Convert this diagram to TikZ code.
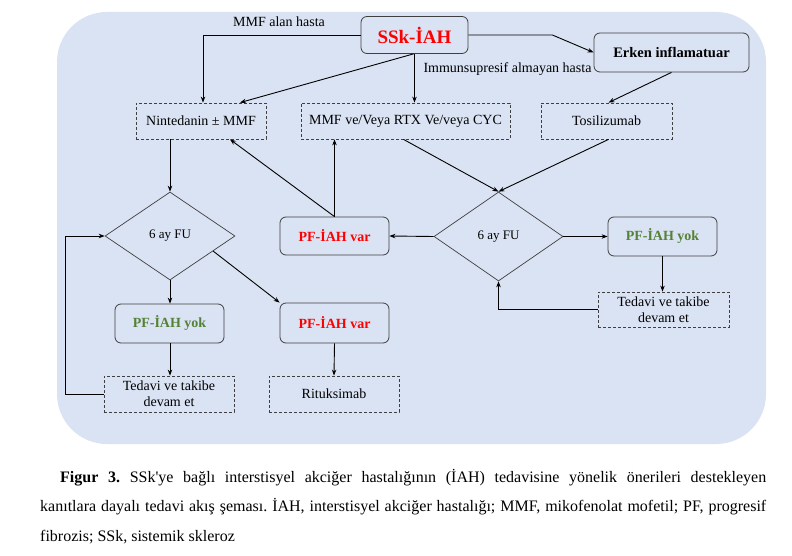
\documentclass[tikz,border=0pt]{standalone}
\usepackage{fontspec}
\setmainfont{Liberation Serif}
\usetikzlibrary{arrows.meta,shapes.geometric,calc}
\definecolor{bgblue}{HTML}{DAE3F3}
\definecolor{edgegray}{HTML}{3F3F3F}
\definecolor{okgreen}{HTML}{548235}
\definecolor{alertred}{HTML}{FF0000}
\begin{document}
\begin{tikzpicture}[x=1pt,y=-1pt,
  solidbox/.style={draw=edgegray, line width=0.8pt, rounded corners=6pt, fill=bgblue, align=center, inner sep=0pt},
  dashbox/.style={draw=edgegray, line width=0.8pt, dash pattern=on 3pt off 2pt, align=center, inner sep=0pt, minimum width=130pt, minimum height=36pt, font=\fontsize{14}{16}\selectfont},
  decision/.style={draw=edgegray, line width=0.7pt, diamond, inner sep=0pt, minimum width=130pt, minimum height=88pt, font=\fontsize{13}{15}\selectfont},
  redlabel/.style={text=alertred, font=\fontsize{14}{16}\selectfont\bfseries},
  greenlabel/.style={text=okgreen, font=\fontsize{14}{16}\selectfont\bfseries},
  conn/.style={line width=0.9pt, -{Stealth[length=6pt,width=4.5pt]}},
  lbl/.style={font=\fontsize{14}{16}\selectfont, inner sep=0pt}
]
\useasboundingbox (0,0) rectangle (792,556);
\fill[white] (0,0) rectangle (792,556);
\fill[bgblue, rounded corners=50pt] (57,12) rectangle (766,444);

% nodes
\node[solidbox, minimum width=107pt, minimum height=37pt, text=alertred, font=\fontsize{19}{21}\selectfont\bfseries] (ssk) at (414.5,35) {SSk-İAH};
\node[solidbox, minimum width=155pt, minimum height=39pt, font=\fontsize{14.5}{16}\selectfont\bfseries] (erk) at (671.5,52.5) {Erken inflamatuar};
\node[dashbox] (nin) at (201,121) {Nintedanin ± MMF};
\node[dashbox, minimum width=209pt] (mmf) at (405.5,121) {MMF ve/Veya RTX Ve/veya CYC};
\node[dashbox, minimum width=131pt] (tos) at (606.5,121) {Tosilizumab};
\node[decision] (ld) at (170,236) {6 ay FU};
\node[decision, minimum width=129pt, minimum height=89pt] (rd) at (498.5,236.5) {6 ay FU};
\node[solidbox, redlabel, minimum width=109pt, minimum height=38pt] (pv1) at (334.5,236) {PF-İAH var};
\node[solidbox, greenlabel, minimum width=109pt, minimum height=39pt] (py2) at (662.5,236.5) {PF-İAH yok};
\node[dashbox, minimum width=131pt, minimum height=35pt] (tr) at (663.5,309.5) {Tedavi ve takibe\\devam et};
\node[solidbox, greenlabel, minimum width=109pt, minimum height=39pt] (py1) at (169.5,323.5) {PF-İAH yok};
\node[solidbox, redlabel, minimum width=109pt, minimum height=40pt] (pv2) at (334.5,323) {PF-İAH var};
\node[dashbox, minimum width=130pt] (tl) at (169,394) {Tedavi ve takibe\\devam et};
\node[dashbox, minimum width=130pt] (rit) at (334,394) {Rituksimab};

% labels
\node[lbl] (lmmf) at (279,22) {MMF alan hasta};
\node[lbl] (limm) at (507.5,69) {Immunsupresif almayan hasta};

% connectors
\draw[conn] (ssk.west) -| ($(nin.north)+(2,0)$);
\coordinate (bend) at ($(ssk.east)+(84,0)$);
\draw[conn] (ssk.east) -- (bend) -- (erk.west);
\draw[conn] (ssk.south) -- (ssk.south |- mmf.north);
\draw[conn] ($(ssk.south)+(-1,0)$) -- ($(nin.north)+(39,0)$);
\draw[conn] (erk.south) -- ($(tos.north)+(2,0)$);
\draw[conn] ($(tos.south)+(2,0)$) -- (rd.north);
\draw[conn] ($(mmf.south)+(-2,0)$) -- (rd.north);
\draw[conn] (pv1.north) -- (pv1.north |- mmf.south);
\draw[conn] (pv1.north) -- ($(nin.south)+(29,0)$);
\draw[conn] (nin.south -| ld.north) -- (ld.north);
\draw[conn] (ld.south) -- (py1.north -| ld.south);
\draw[conn] ($(ld.east)!0.34!(ld.south)$) -- (pv2.north west);
\draw[conn] (py1.south -| ld.south) -- (tl.north -| ld.south);
\draw[conn] (pv2.south) -- (rit.north);
\draw[conn] (tl.west) -- ++(-38,0) |- (ld.west);
\draw[conn] (rd.west) -- (pv1.east);
\draw[conn] (rd.east) -- (py2.west);
\draw[conn] (py2.south) -- (tr.north -| py2.south);
\draw[conn] (tr.west) -| (rd.south);

% caption
\node[anchor=north west, text width=726pt, inner sep=0pt, align=justify, font=\fontsize{16}{29.5}\selectfont\frenchspacing] (cap) at (40,469) {\hspace*{20pt}\textbf{Figur 3.} SSk\textquotesingle ye bağlı interstisyel akciğer hastalığının (İAH) tedavisine yönelik önerileri destekleyen\linebreak kanıtlara dayalı tedavi akış şeması. İAH, interstisyel akciğer hastalığı; MMF, mikofenolat mofetil; PF, progresif\linebreak fibrozis; SSk, sistemik skleroz};
\end{tikzpicture}
\end{document}
